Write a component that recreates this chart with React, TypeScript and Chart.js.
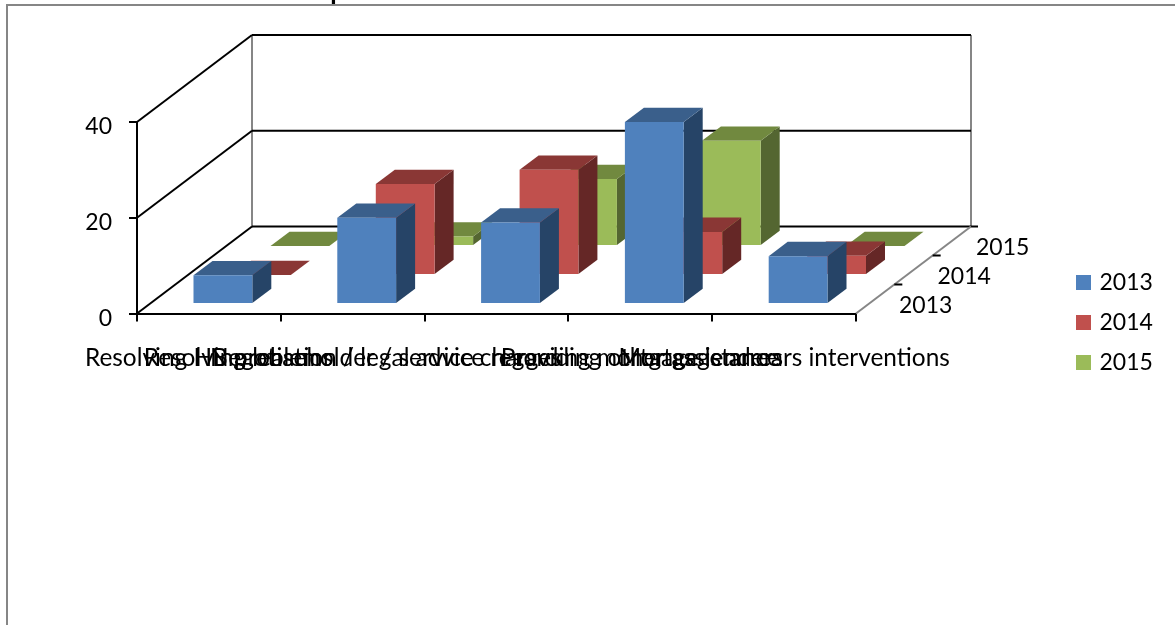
import React, { useEffect, useRef } from "react";
import { Chart, BarController, registerables } from "chart.js";

const categories = [
  "Resolving HB problems",
  "Resolving leaseholder / service charges",
  "Negotiation / legal advice regarding mortgage lenders",
  "Providing other assistance",
  "Mortgage arrears interventions",
];
const seriesNames = ["2013", "2014", "2015"];
const values2013 = [6, 18, 17, 38, 10];
const values2014 = [0, 19, 22, 9, 4];
const values2015 = [0, 2, 14, 22, 0];
const yTicks = [0, 20, 40];
const heading = "Current business priorities:";

const frontColors = ["#4F81BD", "#C0504D", "#9BBB59"];
const topColors = ["#3A5F8B", "#8A3735", "#71893F"];
const sideColors = ["#264467", "#652726", "#546631"];

const FONT = "Lato";
const LABEL_SIZE = 23;
const CATEGORY_SIZE = 24.4;
const GREY = "#868686";

// Projection of the floor: full depth of the box and the depth of one bar.
const DEPTH_X = 115;
const DEPTH_Y = -87;
const BAR_DEPTH_X = 19;
const BAR_DEPTH_Y = -14.3;
const ROW_X = [14, 52.5, 91];
const ROW_Y = [-9.5, -38.5, -67.5];

function face(ctx: CanvasRenderingContext2D, color: string, pts: number[][]) {
  ctx.fillStyle = color;
  ctx.beginPath();
  pts.forEach(([x, y], i) => (i ? ctx.lineTo(x, y) : ctx.moveTo(x, y)));
  ctx.closePath();
  ctx.fill();
}

// Bar controller that draws each element as a box standing on its row of the floor.
class Bar3DController extends BarController {
  static id = "bar3d";
  static defaults = BarController.defaults;
  static overrides = BarController.overrides;

  draw() {
    const ctx = this.chart.ctx;
    const row = this.index;
    const meta = this.getMeta();
    ctx.save();
    meta.data.forEach((el: any) => {
      const half = el.width / 2;
      const l = el.x - half + ROW_X[row];
      const r = el.x + half + ROW_X[row];
      const t = el.y + ROW_Y[row];
      const b = el.base + ROW_Y[row];
      const dx = BAR_DEPTH_X;
      const dy = BAR_DEPTH_Y;
      face(ctx, sideColors[row], [[r, t], [r + dx, t + dy], [r + dx, b + dy], [r, b]]);
      face(ctx, topColors[row], [[l, t], [l + dx, t + dy], [r + dx, t + dy], [r, t]]);
      if (b > t) face(ctx, frontColors[row], [[l, t], [r, t], [r, b], [l, b]]);
    });
    ctx.restore();
  }
}

const line = (ctx: CanvasRenderingContext2D, color: string, width: number, x1: number, y1: number, x2: number, y2: number) => {
  ctx.strokeStyle = color;
  ctx.lineWidth = width;
  ctx.beginPath();
  ctx.moveTo(x1, y1);
  ctx.lineTo(x2, y2);
  ctx.stroke();
};

// Frame, clipped heading, walls, and the depth axis with its labels.
const boxPlugin = {
  id: "box",
  beforeDatasetsDraw(chart: any) {
    const ctx = chart.ctx as CanvasRenderingContext2D;
    const { x, y } = chart.scales;
    const x0 = x.left;
    const x1 = x.right;
    const floor = y.getPixelForValue(0);
    const top = y.getPixelForValue(yTicks[yTicks.length - 1]);
    ctx.save();

    ctx.fillStyle = "#000";
    ctx.font = `bold 26px ${FONT}`;
    ctx.textAlign = "left";
    ctx.textBaseline = "alphabetic";
    ctx.fillText(heading, 130, 0);
    ctx.strokeStyle = GREY;
    ctx.lineWidth = 2;
    ctx.clearRect(0, 4, 1175, 3);
    ctx.strokeRect(7, 5, 1400, 900);

    line(ctx, GREY, 2, x0 + DEPTH_X, top + DEPTH_Y, x0 + DEPTH_X, floor + DEPTH_Y);
    line(ctx, GREY, 2, x1 + DEPTH_X, top + DEPTH_Y, x1 + DEPTH_X, floor + DEPTH_Y);
    yTicks.forEach((v) => {
      const py = y.getPixelForValue(v);
      line(ctx, "#000", 2, x0, py, x0 + DEPTH_X, py + DEPTH_Y);
      line(ctx, "#000", 2, x0 + DEPTH_X, py + DEPTH_Y, x1 + DEPTH_X + (v === 0 ? 7 : 0), py + DEPTH_Y);
    });
    line(ctx, GREY, 2, x1, floor, x1 + DEPTH_X, floor + DEPTH_Y);
    [1, 2].forEach((k) => {
      const px = x1 + (DEPTH_X * k) / 3;
      const py = floor + (DEPTH_Y * k) / 3;
      line(ctx, "#000", 2, px, py, px + 8, py);
    });

    ctx.fillStyle = "#000";
    ctx.font = `${LABEL_SIZE}px ${FONT}`;
    ctx.textAlign = "left";
    ctx.textBaseline = "middle";
    seriesNames.forEach((name, i) => {
      ctx.fillText(name, x1 + 43 + 38.5 * i, floor - 8 - 29 * i);
    });
    ctx.restore();
  },
  afterLayout(chart: any) {
    // Park the legend in the right margin; it takes no room from the plot.
    const legend = chart.legend;
    legend.left = 1062;
    legend.right = 1175;
    legend.width = 113;
    legend.top = 254;
    legend.bottom = 401;
    legend.height = 147;
  },
};

Chart.register(...registerables, Bar3DController);

export default function App() {
  const ref = useRef<HTMLCanvasElement>(null);

  useEffect(() => {
    document.body.style.margin = "0";
    const seriesValues = [values2013, values2014, values2015];
    const chart = new Chart(ref.current!, {
      type: "bar3d" as any,
      data: {
        labels: categories,
        datasets: seriesNames.map((label, i) => ({
          label,
          data: seriesValues[i],
          backgroundColor: frontColors[i],
          grouped: false,
          categoryPercentage: 1,
          barPercentage: 0.409,
          clip: false,
        })),
      },
      options: {
        responsive: false,
        animation: false,
        layout: { padding: { top: 122, right: 319, left: 0, bottom: 0 } },
        plugins: {
          title: { display: false },
          tooltip: { enabled: false },
          legend: {
            position: "chartArea",
            align: "start",
            labels: {
              color: "#000",
              font: { family: FONT, size: LABEL_SIZE },
              boxWidth: 9,
              boxHeight: 9,
              padding: 17,
              // A thick same-colour stroke grows the swatch without widening the text gap.
              generateLabels: () =>
                seriesNames.map((text, i) => ({
                  text,
                  fillStyle: frontColors[i],
                  strokeStyle: frontColors[i],
                  lineWidth: 6,
                  datasetIndex: i,
                  fontColor: "#000",
                })),
            },
          },
        },
        scales: {
          x: {
            type: "category",
            offset: true,
            afterFit: (s: any) => {
              s.height = 625 - 313.5;
            },
            grid: { offset: true, drawOnChartArea: false, color: "#000", lineWidth: 2, tickLength: 8 },
            border: { color: "#000", width: 2 },
            ticks: {
              autoSkip: false,
              maxRotation: 0,
              minRotation: 0,
              padding: 22,
              color: "#000",
              font: { family: FONT, size: CATEGORY_SIZE },
            },
          },
          y: {
            type: "linear",
            min: 0,
            max: 40,
            afterFit: (s: any) => {
              s.width = 137;
            },
            grid: { drawOnChartArea: false, color: "#000", lineWidth: 2, tickLength: 8 },
            border: { color: "#000", width: 2 },
            ticks: {
              stepSize: 20,
              padding: 17,
              labelOffset: 5,
              color: "#000",
              font: { family: FONT, size: LABEL_SIZE },
            },
          },
        },
      },
      plugins: [boxPlugin],
    } as any);
    return () => chart.destroy();
  }, []);

  return (
    <div style={{ position: "absolute", left: 0, top: 0, width: 1175, height: 625, overflow: "hidden", background: "#fff" }}>
      <canvas ref={ref} width={1175} height={625} style={{ display: "block" }} />
    </div>
  );
}
